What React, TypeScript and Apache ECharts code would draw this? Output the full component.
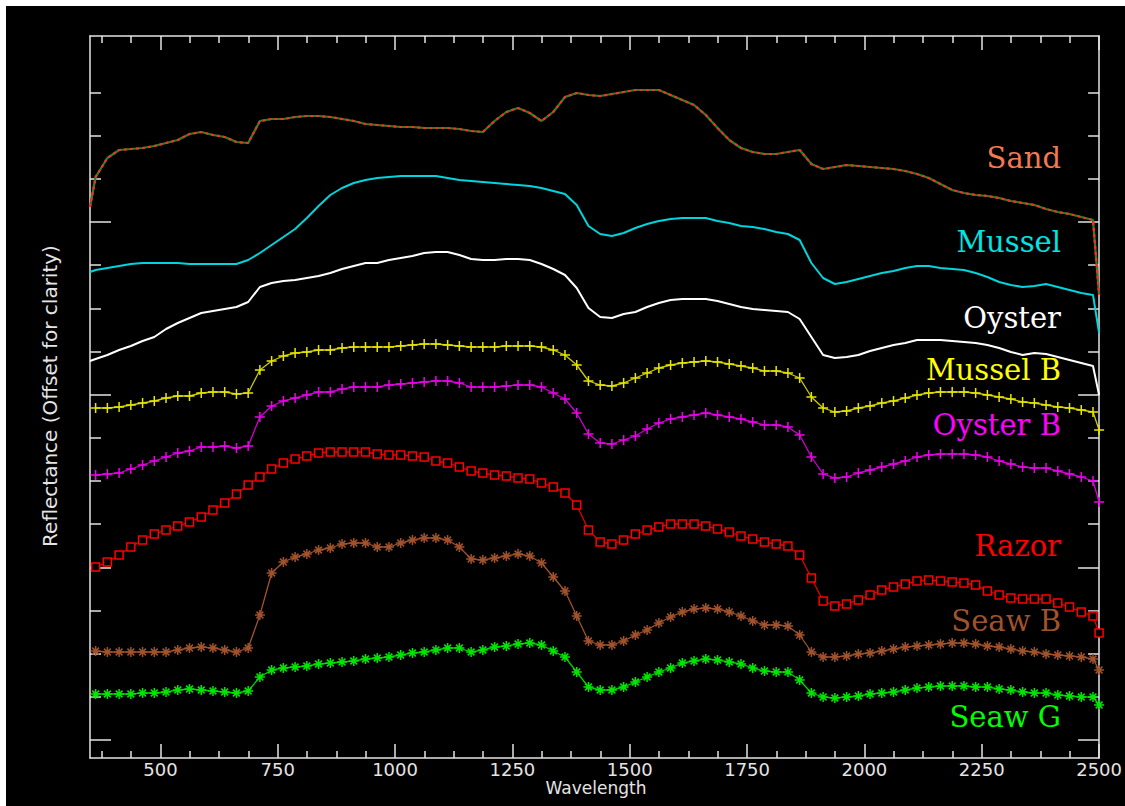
import { useEffect, useRef } from 'react';
import * as echarts from 'echarts';

// Wavelength grid (nm) shared by all spectra
const WAVELENGTHS = [
  350, 362, 387, 412, 437, 462, 487, 512, 537, 562, 587, 612, 637, 662, 687, 712, 737, 762, 787, 812,
  837, 862, 887, 912, 937, 962, 987, 1012, 1037, 1062, 1087, 1112, 1137, 1162, 1187, 1212, 1237, 1262,
  1287, 1312, 1337, 1362, 1387, 1412, 1437, 1462, 1487, 1512, 1537, 1562, 1587, 1612, 1637, 1662, 1687,
  1712, 1737, 1762, 1787, 1812, 1837, 1862, 1887, 1912, 1937, 1962, 1987, 2012, 2037, 2062, 2087, 2112,
  2137, 2162, 2187, 2212, 2237, 2262, 2287, 2312, 2337, 2362, 2387, 2412, 2437, 2462, 2487, 2500,
];

// Offset reflectance (arbitrary units, offset for clarity)
const SAND = [
  533, 563, 582, 590, 591, 592, 594, 597, 600, 606, 608, 605, 603, 598, 597, 619, 621, 621, 623, 624, 624,
  623, 621, 619, 616, 615, 614, 613, 613, 612, 612, 612, 611, 609, 608, 619, 628, 632, 627, 619,
  628, 643, 647, 645, 644, 646, 648, 650, 650, 650, 645, 640, 635, 625, 612, 600, 592, 588, 586,
  586, 588, 590, 576, 571, 573, 575, 574, 573, 572, 571, 569, 566, 562, 556, 550, 547, 545, 544, 542,
  539, 537, 535, 531, 528, 526, 523, 520, 445,
];
const MUSSEL = [
  468, 470, 472, 474, 476, 477, 477, 477, 477, 476, 476, 476, 476, 476, 480, 487, 495, 503, 511, 522, 534,
  545, 552, 557, 560, 562, 563, 564, 564, 564, 564, 562, 560, 559, 558, 557, 556, 555, 554, 552,
  549, 546, 535, 514, 506, 504, 507, 512, 516, 519, 521, 522, 522, 522, 519, 517, 514, 513, 511,
  508, 506, 500, 477, 462, 456, 458, 461, 464, 467, 469, 472, 474, 474, 472, 471, 470, 467, 463, 458,
  455, 453, 454, 456, 453, 450, 447, 445, 407,
];
const OYSTER = [
  379, 381, 385, 390, 394, 399, 403, 411, 417, 422, 427, 429, 431, 433, 438, 453, 457, 459, 460, 462, 464,
  467, 471, 474, 477, 477, 480, 482, 484, 487, 488, 488, 485, 481, 480, 480, 481, 481, 480, 476,
  471, 465, 452, 432, 423, 422, 426, 428, 433, 437, 440, 441, 441, 441, 439, 436, 433, 431, 430,
  429, 428, 421, 403, 385, 382, 383, 385, 389, 392, 395, 397, 400, 400, 400, 399, 398, 397, 395, 392,
  388, 385, 387, 386, 383, 380, 377, 374, 345,
];
const MUSSEL_B = [
  null, 332, 332, 333, 335, 337, 339, 342, 344, 344, 347, 348, 348, 346, 347, 370, 379, 384, 387, 388, 390,
  390, 392, 393, 393, 393, 393, 394, 395, 396, 396, 395, 394, 393, 393, 393, 394, 394, 394, 393,
  390, 385, 375, 359, 355, 354, 357, 362, 367, 372, 375, 377, 378, 379, 378, 376, 374, 372, 369,
  369, 367, 362, 343, 332, 328, 329, 332, 334, 337, 339, 342, 345, 347, 348, 348, 348, 347, 345, 343,
  341, 338, 337, 335, 333, 332, 330, 328, 310,
];
const OYSTER_B = [
  null, 265, 266, 267, 271, 275, 279, 283, 287, 289, 293, 293, 294, 292, 294, 323, 334, 339, 342, 345, 348,
  348, 351, 353, 353, 353, 355, 356, 357, 358, 359, 359, 357, 353, 353, 353, 354, 355, 355, 353,
  347, 341, 327, 306, 297, 296, 300, 304, 311, 317, 321, 323, 325, 327, 325, 323, 321, 318, 315,
  315, 313, 305, 283, 266, 262, 263, 267, 270, 273, 276, 279, 283, 285, 286, 286, 286, 285, 283, 279,
  276, 273, 272, 272, 269, 266, 263, 259, 238,
];
const RAZOR = [
  null, 173, 178, 185, 193, 200, 206, 210, 214, 218, 223, 230, 237, 246, 255, 263, 271, 277, 281, 284, 287,
  288, 288, 288, 288, 286, 285, 285, 284, 283, 279, 277, 273, 269, 267, 265, 264, 262, 261, 257,
  253, 247, 235, 210, 198, 196, 200, 206, 210, 213, 216, 216, 216, 214, 211, 208, 204, 201, 198,
  196, 194, 185, 162, 139, 134, 136, 140, 145, 150, 153, 156, 159, 160, 159, 158, 157, 155, 149, 145,
  142, 141, 141, 141, 137, 133, 128, 124, 107,
];
const SEAW_B = [
  null, 89, 88, 88, 88, 88, 88, 88, 90, 92, 93, 92, 90, 88, 92, 125, 167, 178, 183, 186, 190,
  192, 196, 197, 197, 193, 193, 197, 200, 202, 202, 200, 193, 181, 180, 182, 184, 186, 184, 177,
  163, 149, 124, 99, 95, 95, 99, 105, 110, 117, 123, 128, 131, 132, 131, 128, 124, 119, 115,
  115, 114, 105, 88, 83, 83, 84, 86, 87, 89, 91, 93, 94, 95, 96, 97, 97, 96, 94, 93,
  91, 89, 88, 86, 85, 84, 83, 81, 70,
];
const SEAW_G = [
  null, 46, 46, 46, 46, 47, 47, 48, 50, 51, 50, 49, 48, 47, 49, 63, 70, 72, 73, 74, 76,
  77, 78, 79, 81, 82, 83, 85, 87, 88, 90, 92, 92, 88, 90, 93, 94, 96, 97, 95,
  89, 83, 68, 53, 50, 50, 53, 58, 63, 68, 72, 77, 79, 81, 80, 78, 76, 72, 69,
  68, 68, 60, 47, 43, 42, 43, 44, 46, 47, 48, 50, 52, 53, 54, 54, 54, 53, 53, 51,
  50, 48, 47, 47, 45, 44, 43, 43, 35,
];

// Axis ticks
const X_MAJOR = [500, 750, 1000, 1250, 1500, 1750, 2000, 2250, 2500];
const X_MINOR = [
  375, 437.5, 562.5, 625, 687.5, 812.5, 875, 937.5, 1062.5, 1125, 1187.5, 1312.5, 1375, 1437.5,
  1562.5, 1625, 1687.5, 1812.5, 1875, 1937.5, 2062.5, 2125, 2187.5, 2312.5, 2375, 2437.5,
];
const Y_MAJOR = [0, 172.7, 345.4, 518.1];
const Y_MINOR = [43.2, 86.3, 129.5, 215.9, 259, 302.2, 388.5, 431.7, 474.9, 561.2, 604.4, 647.6];

const LABELS = ['Sand', 'Mussel', 'Oyster', 'Mussel B', 'Oyster B', 'Razor', 'Seaw B', 'Seaw G'];
const LABEL_COLORS = ['#f27852', '#00e4e4', '#ffffff', '#ffff00', '#ff00ff', '#ff0000', '#a0522d', '#00ff00'];
const LABEL_Y = [152, 236, 312, 364, 419, 540, 615, 711];

const PLUS = 'path://M5 0L5 10M0 5L10 5';
const STAR = 'path://M5 0L5 10M0 5L10 5M1.6 1.6L8.4 8.4M1.6 8.4L8.4 1.6';

const AXIS_COLOR = '#e4e4e4';

function pts(vals: (number | null)[]) {
  return WAVELENGTHS.map((w, i) => [w, vals[i]]).filter((p) => p[1] !== null);
}

export default function App() {
  const ref = useRef<HTMLDivElement>(null);

  useEffect(() => {
    if (!ref.current) return;
    const chart = echarts.init(ref.current, null, { renderer: 'svg' });
    const lineStyle = { color: AXIS_COLOR, width: 1.5 };

    const xAx = (position: string, ticks: number[], len: number, line: boolean, labels: boolean) => ({
      type: 'value',
      position,
      min: 350,
      max: 2500,
      axisLine: { show: line, onZero: false, lineStyle },
      axisTick: { show: true, inside: true, length: len, customValues: ticks, lineStyle },
      axisLabel: labels
        ? {
            show: true,
            customValues: X_MAJOR,
            color: AXIS_COLOR,
            fontFamily: 'DejaVu Sans',
            fontSize: 18,
            margin: 2,
            hideOverlap: false,
            formatter: (v: number) => String(v),
          }
        : { show: false },
      splitLine: { show: false },
    });
    const yAx = (position: string, ticks: number[], len: number, line: boolean) => ({
      type: 'value',
      position,
      min: -18,
      max: 704,
      axisLine: { show: line, onZero: false, lineStyle },
      axisTick: { show: true, inside: true, length: len, customValues: ticks, lineStyle },
      axisLabel: { show: false },
      splitLine: { show: false },
    });

    const markerSeries = (name: string, vals: (number | null)[], color: string, symbol: string, size: number, lineColor?: string) => ({
      name,
      type: 'line',
      data: pts(vals),
      xAxisIndex: 0,
      yAxisIndex: 0,
      symbol,
      symbolSize: size,
      showSymbol: true,
      lineStyle: { color: lineColor || color, width: 1.3 },
      itemStyle: {
        color: symbol === 'rect' ? '#000000' : color,
        borderColor: color,
        borderWidth: 1.5,
      },
      emphasis: { disabled: true },
      silent: true,
    });

    const plainSeries = (name: string, vals: number[], color: string, width: number, type: any = 'solid') => ({
      name,
      type: 'line',
      data: pts(vals),
      xAxisIndex: 0,
      yAxisIndex: 0,
      symbol: 'none',
      lineStyle: { color, width, type },
      emphasis: { disabled: true },
      silent: true,
    });

    chart.setOption({
      animation: false,
      backgroundColor: '#000000',
      grid: { left: 84, top: 30, width: 1012, height: 722, containLabel: false },
      xAxis: [
        xAx('bottom', X_MAJOR, 14, true, true),
        xAx('bottom', X_MINOR, 7, false, false),
        xAx('top', X_MAJOR, 14, true, false),
        xAx('top', X_MINOR, 7, false, false),
      ],
      yAxis: [
        yAx('left', Y_MAJOR, 21, true),
        yAx('left', Y_MINOR, 11, false),
        yAx('right', Y_MAJOR, 21, true),
        yAx('right', Y_MINOR, 11, false),
      ],
      series: [
        plainSeries('Sand', SAND, '#1e8a1e', 2.2),
        plainSeries('Sand (red)', SAND, '#ff2a2a', 2.2, [3, 3]),
        plainSeries('Mussel', MUSSEL, '#00d4dc', 2),
        plainSeries('Oyster', OYSTER, '#ffffff', 2),
        markerSeries('Mussel B', MUSSEL_B, '#e6e600', PLUS, 10, '#cccc00'),
        markerSeries('Oyster B', OYSTER_B, '#ee00ee', PLUS, 10, '#d000d0'),
        markerSeries('Razor', RAZOR, '#ff0000', 'rect', 8, '#e00000'),
        markerSeries('Seaw B', SEAW_B, '#a0522d', STAR, 10),
        markerSeries('Seaw G', SEAW_G, '#00e600', STAR, 10, '#00d000'),
      ],
      graphic: [
        {
          type: 'text',
          x: 44,
          y: 390,
          rotation: Math.PI / 2,
          silent: true,
          style: {
            text: 'Reflectance (Offset for clarity)',
            fill: AXIS_COLOR,
            font: '20px "DejaVu Sans"',
            align: 'center',
            verticalAlign: 'middle',
          },
        },
        {
          type: 'text',
          x: 590,
          y: 782,
          silent: true,
          style: {
            text: 'Wavelength',
            fill: AXIS_COLOR,
            font: '17px "DejaVu Sans"',
            align: 'center',
            verticalAlign: 'middle',
          },
        },
        ...LABELS.map((t, i) => ({
          type: 'text',
          x: 1055,
          y: LABEL_Y[i],
          silent: true,
          style: {
            text: t,
            fill: LABEL_COLORS[i],
            font: '29px "DejaVu Serif"',
            align: 'right',
            verticalAlign: 'middle',
          },
        })),
      ],
    });

    return () => chart.dispose();
  }, []);

  return (
    <div style={{ position: 'fixed', left: 0, top: 0, width: 1125, height: 806, background: '#ffffff' }}>
      <div ref={ref} style={{ position: 'absolute', left: 6, top: 6, width: 1119, height: 800 }} />
    </div>
  );
}
